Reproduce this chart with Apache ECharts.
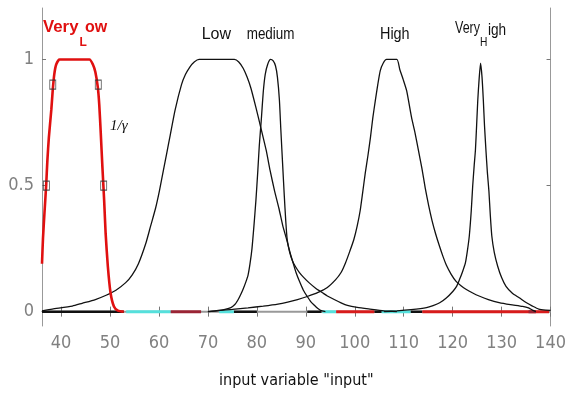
<!DOCTYPE html>
<html><head><meta charset="utf-8">
<script src="https://cdn.jsdelivr.net/npm/echarts@6/dist/echarts.min.js"></script>
<style>html,body{margin:0;padding:0;background:#fff}#c{width:569px;height:394px}</style>
</head><body><div id="c"></div>
<script>
const xTicks = [40,50,60,70,80,90,100,110,120,130,140];
const yTicks = [0,0.5,1];
const veryLowPts = [[36.1,0.19],[36.3,0.29],[36.6,0.39],[36.95,0.5],[37.2,0.6],[37.5,0.69],[38.0,0.8],[38.3,0.88],[38.6,0.94],[39.0,0.98],[39.7,1.0],[45.8,1.0],[46.5,0.98],[47.0,0.95],[47.5,0.89],[47.8,0.82],[48.1,0.71],[48.45,0.57],[48.8,0.44],[49.1,0.31],[49.55,0.18],[50.1,0.075],[50.8,0.02],[51.6,0.004],[52.8,0]];
const lowPts = [[36.1,0.003],[38.2,0.01],[42.3,0.022],[44.3,0.033],[47.0,0.048],[49.2,0.065],[51.2,0.085],[53.2,0.115],[54.5,0.145],[55.8,0.19],[57.3,0.27],[58.3,0.34],[59.3,0.41],[60.1,0.48],[60.9,0.56],[61.6,0.63],[62.3,0.70],[63.3,0.80],[64.6,0.90],[65.4,0.94],[66.3,0.97],[67.2,0.99],[68.2,1.0],[75.4,1.0],[76.3,0.99],[77.2,0.965],[78.0,0.93],[78.8,0.885],[79.8,0.81],[80.8,0.73],[81.9,0.64],[82.7,0.56],[83.6,0.48],[84.5,0.41],[85.3,0.34],[86.1,0.285],[86.7,0.24],[87.3,0.2],[88.0,0.155],[88.7,0.12],[89.5,0.085],[90.3,0.06],[91.0,0.04],[91.75,0.025],[92.4,0.013],[93.0,0.005],[94.0,0]];
const mediumPts = [[70.0,0.0],[72.1,0.004],[73.5,0.009],[74.7,0.016],[75.5,0.028],[76.1,0.045],[76.7,0.068],[77.2,0.09],[77.7,0.115],[78.2,0.145],[78.6,0.19],[79.0,0.25],[79.4,0.34],[79.8,0.44],[80.2,0.56],[80.5,0.66],[80.9,0.76],[81.3,0.87],[81.7,0.94],[82.2,0.98],[82.8,1.0],[83.3,0.995],[83.8,0.975],[84.2,0.93],[84.6,0.84],[84.9,0.72],[85.3,0.57],[85.6,0.46],[85.9,0.36],[86.2,0.285],[86.7,0.235],[87.3,0.2],[87.9,0.178],[88.7,0.155],[89.6,0.135],[90.7,0.114],[92.0,0.093],[93.4,0.075],[94.4,0.062],[95.8,0.048],[97.2,0.035],[98.5,0.025],[100.5,0.017],[103.1,0.01],[105.9,0.003],[108.6,0]];
const highPts = [[70.0,0.0],[72.1,0.005],[75.0,0.009],[78.2,0.015],[81.3,0.022],[84.3,0.03],[86.3,0.038],[88.3,0.048],[90.3,0.06],[92.4,0.075],[94.4,0.096],[96.1,0.127],[97.2,0.155],[98.1,0.193],[99.0,0.24],[99.8,0.285],[100.5,0.34],[101.1,0.40],[101.6,0.47],[102.15,0.55],[102.7,0.62],[103.2,0.69],[103.7,0.77],[104.2,0.837],[104.7,0.9],[105.2,0.955],[105.8,0.985],[106.5,1.0],[108.6,1.0],[109.2,0.96],[109.9,0.92],[110.6,0.876],[111.6,0.77],[112.3,0.71],[113.0,0.64],[113.7,0.57],[114.4,0.49],[115.1,0.42],[115.8,0.36],[116.5,0.31],[117.3,0.26],[118.0,0.22],[118.7,0.185],[119.7,0.148],[120.7,0.12],[121.7,0.103],[122.8,0.088],[124.0,0.075],[125.4,0.062],[127.3,0.048],[129.5,0.036],[131.8,0.028],[134.3,0.021],[135.5,0.015],[136.3,0.006],[137.0,0]];
const veryHighPts = [[106,0],[108.6,0.003],[111.5,0.008],[114.65,0.016],[116.0,0.024],[117.35,0.035],[118.7,0.054],[120.07,0.081],[120.8,0.1],[121.4,0.127],[122.0,0.157],[122.6,0.193],[123.0,0.24],[123.4,0.3],[123.8,0.4],[124.1,0.5],[124.4,0.58],[124.65,0.64],[124.9,0.74],[125.13,0.837],[125.4,0.92],[125.7,0.985],[126.0,0.93],[126.27,0.837],[126.5,0.74],[126.8,0.64],[127.1,0.55],[127.4,0.48],[127.7,0.38],[128.0,0.3],[128.5,0.235],[129.2,0.18],[130.0,0.135],[130.9,0.1],[132.2,0.073],[133.6,0.055],[135.0,0.036],[136.3,0.022],[137.6,0.01],[139.0,0.006],[140,0.005]];
const hedgeMarks = [[38.3,0.9],[47.6,0.9],[37.0,0.5],[48.7,0.5]];
const baseGray = [[36.1,140]];
const baseCyan = [[53.3,62.4],[72.3,75.3],[93.4,96.2],[105.5,111.4]];
const baseRed = [[96.2,104],[113.8,139.7]];
const baseDarkRed = [[62.4,68.6],[135.5,137]];
const baseBlack = [[36.1,52.8],[75.3,80],[90.3,93.2],[104,105.5],[111.4,113.8]];

function segs(arr){ const d=[]; arr.forEach(([a,b])=>{ d.push([a,0],[b,0],[b,'-']); }); return d; }
const NARROW = '"Liberation Sans Narrow","DejaVu Sans Condensed","Liberation Sans",Arial,sans-serif';
const SANS = '"Liberation Sans",Arial,sans-serif';
const axisCol = '#999';

function curve(name, pts, color, width, z){
  return {name, type:'line', data:pts, showSymbol:false, smooth:0.2, z,
    lineStyle:{color, width}, silent:true};
}
function base(name, arr, color, width){
  return {name, type:'line', data:segs(arr), showSymbol:false, z:1, connectNulls:false,
    lineStyle:{color, width}, silent:true};
}

const chart = echarts.init(document.getElementById('c'), null, {renderer:'canvas'});
chart.setOption({
  animation:false,
  backgroundColor:'#fff',
  grid:{left:42, right:14, top:8, bottom:67},
  xAxis:[{
    type:'value', min:36.1, max:140, position:'bottom',
    axisLine:{show:true, lineStyle:{color:axisCol, width:1}},
    axisTick:{show:true, inside:true, length:5, customValues:xTicks, lineStyle:{color:'#777'}},
    axisLabel:{customValues:xTicks, color:'#808080', fontSize:18, fontFamily:NARROW, margin:8},
    splitLine:{show:false},
    name:'input variable "input"', nameLocation:'middle', nameGap:47,
    nameTextStyle:{color:'#111', fontSize:16, fontFamily:NARROW}
  },{
    type:'value', min:36.1, max:140, position:'top',
    axisLine:{show:true, lineStyle:{color:axisCol, width:1}},
    axisTick:{show:true, inside:true, length:5, customValues:xTicks, lineStyle:{color:'#777'}},
    axisLabel:{show:false}, splitLine:{show:false}
  }],
  yAxis:[{
    type:'value', min:-0.057, max:1.204, position:'left',
    axisLine:{show:true, lineStyle:{color:axisCol, width:1}},
    axisTick:{show:true, inside:true, length:4, customValues:yTicks, lineStyle:{color:'#777'}},
    axisLabel:{customValues:yTicks, color:'#808080', fontSize:18, fontFamily:NARROW, margin:8},
    splitLine:{show:false}
  },{
    type:'value', min:-0.057, max:1.204, position:'right',
    axisLine:{show:true, lineStyle:{color:axisCol, width:1}},
    axisTick:{show:true, inside:true, length:4, customValues:yTicks, lineStyle:{color:'#777'}},
    axisLabel:{show:false}, splitLine:{show:false}
  }],
  series:[
    base('baseGray', baseGray, '#999', 2),
    base('baseBlack', baseBlack, '#111', 2.5),
    base('baseCyan', baseCyan, '#55e0dc', 3),
    base('baseRed', baseRed, '#d81c1c', 3),
    base('baseDarkRed', baseDarkRed, '#9a2434', 3),
    curve('Low', lowPts, '#111', 1.3, 3),
    curve('medium', mediumPts, '#111', 1.3, 3),
    curve('High', highPts, '#111', 1.3, 3),
    curve('VeryHigh', veryHighPts, '#111', 1.3, 3),
    curve('VeryLow', veryLowPts, '#e01010', 2.6, 4),
    {name:'hedge', type:'scatter', data:hedgeMarks, symbol:'rect', symbolSize:[6,9], z:5, silent:true,
      itemStyle:{color:'rgba(255,255,255,0)', borderColor:'#333', borderWidth:1}}
  ],
  graphic:[
    {type:'text', x:43, y:28, scaleX:1.05, style:{text:'Very', fill:'#e01010', font:'bold 16px '+SANS, textAlign:'left', textVerticalAlign:'middle', align:'left', verticalAlign:'middle'}},
    {type:'text', x:79.5, y:42.5, style:{text:'L', fill:'#e01010', font:'bold 12px '+SANS, textAlign:'left', textVerticalAlign:'middle', align:'left', verticalAlign:'middle'}},
    {type:'text', x:85, y:28, style:{text:'ow', fill:'#e01010', font:'bold 16px '+SANS, textAlign:'left', textVerticalAlign:'middle', align:'left', verticalAlign:'middle'}},
    {type:'text', x:201.7, y:34.5, scaleX:1.0, style:{text:'Low', fill:'#111', font:'16px '+SANS, textAlign:'left', textVerticalAlign:'middle', align:'left', verticalAlign:'middle'}},
    {type:'text', x:246.7, y:34.5, scaleX:0.84, style:{text:'medium', fill:'#111', font:'16px '+SANS, textAlign:'left', textVerticalAlign:'middle', align:'left', verticalAlign:'middle'}},
    {type:'text', x:380, y:34.5, scaleX:0.9, style:{text:'High', fill:'#111', font:'16px '+SANS, textAlign:'left', textVerticalAlign:'middle', align:'left', verticalAlign:'middle'}},
    {type:'text', x:455, y:29, scaleX:0.78, style:{text:'Very', fill:'#111', font:'16px '+SANS, textAlign:'left', textVerticalAlign:'middle', align:'left', verticalAlign:'middle'}},
    {type:'text', x:480, y:42.5, scaleX:0.85, style:{text:'H', fill:'#111', font:'12px '+SANS, textAlign:'left', textVerticalAlign:'middle', align:'left', verticalAlign:'middle'}},
    {type:'text', x:488, y:31, scaleX:0.85, style:{text:'igh', fill:'#111', font:'16px '+SANS, textAlign:'left', textVerticalAlign:'middle', align:'left', verticalAlign:'middle'}},
    {type:'text', x:110, y:125.7, style:{text:'1/γ', fill:'#111', font:'italic 15px "Liberation Serif",serif', textAlign:'left', textVerticalAlign:'middle', align:'left', verticalAlign:'middle'}}
  ]
});
</script></body></html>
